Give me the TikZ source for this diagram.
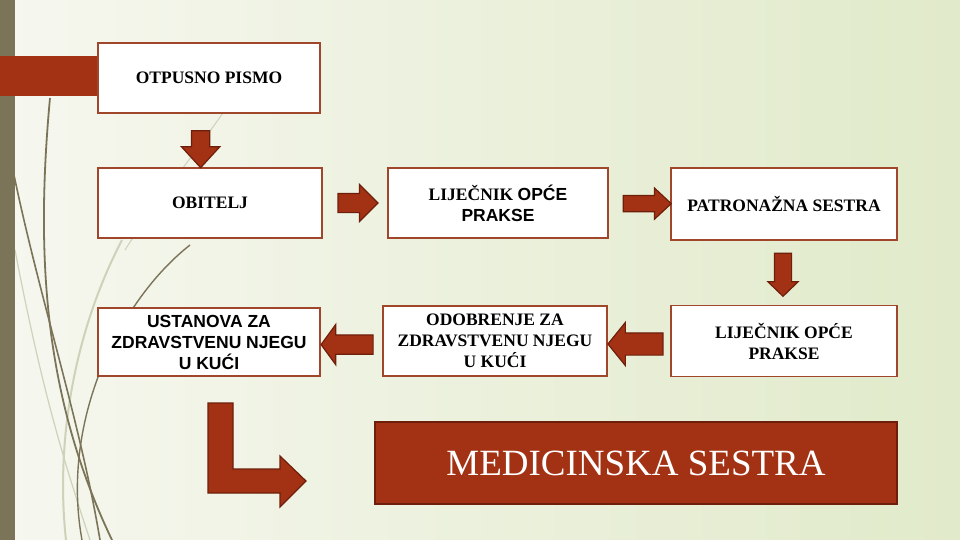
\documentclass[tikz,border=0pt]{standalone}
\usepackage{fontspec}
\setmainfont{Liberation Serif}
\setsansfont{Liberation Sans}
\usetikzlibrary{shapes.arrows,calc}

\definecolor{bgleft}{HTML}{F6F7EF}
\definecolor{bgright}{HTML}{E1EACA}
\definecolor{sidebar}{HTML}{7B7458}
\definecolor{arrowred}{HTML}{A33214}
\definecolor{arrowline}{HTML}{6E1F0B}
\definecolor{boxline}{HTML}{A0472B}
\definecolor{swirl}{HTML}{7B7458}
\definecolor{swirllight}{HTML}{CDD2B9}

\newcommand{\boxfont}{\fontsize{17.5}{21}\selectfont\bfseries}

\tikzset{
  box/.style={draw=boxline, line width=1.8, fill=white, inner sep=0pt,
    align=center, font=\boxfont, minimum width=224, minimum height=70},
  blockarrow/.style={single arrow, draw=arrowline, fill=arrowred,
    line width=1.2, inner xsep=0pt}
}

\begin{document}
\begin{tikzpicture}[x=1pt,y=-1pt]

  % background
  \useasboundingbox (0,0) rectangle (960,540);
  \shade[left color=bgleft, right color=bgright] (0,0) rectangle (960,540);

  % swirls
  \draw[swirllight, line width=2]   (122,240) .. controls (75,330) and (55,440) .. (66,540);
  \draw[swirllight, line width=1]   (225,110) .. controls (190,160) and (150,210) .. (125,250);
  \draw[swirllight, line width=1.2] (15,250) .. controls (40,380) and (60,450) .. (90,540);
  \draw[swirl, line width=1.8] (50,98) .. controls (35,260) and (45,400) .. (112,540);
  \draw[swirl, line width=1.6] (14,175) .. controls (40,300) and (80,420) .. (100,540);
  \draw[swirl, line width=1.4] (190,245) .. controls (120,300) and (60,420) .. (82,540);

  \fill[sidebar] (0,0) rectangle (15,540);
  \fill[arrowred] (0,56) rectangle (98,96);

  % boxes
  \node[box, minimum width=222] (otpusno)    at (209,78)  {OTPUSNO PISMO};
  \node[box]                    (obitelj)    at (210,203) {OBITELJ};
  \node[box, minimum width=220] (lijecnikA)  at (498,203)
    {LIJEČNIK {\sffamily OPĆE}\\\sffamily PRAKSE};
  \node[box, minimum width=226, minimum height=72] (patronazna) at (784,204)
    {PATRONAŽNA SESTRA};
  \node[box, minimum width=226, minimum height=71] (lijecnikB) at (784,341)
    {LIJEČNIK OPĆE\\PRAKSE};
  \node[box]                    (odobrenje)  at (495,341)
    {ODOBRENJE ZA\\ZDRAVSTVENU NJEGU\\U KUĆI};
  \node[box, minimum width=222, minimum height=68, font=\boxfont\sffamily] (ustanova) at (209,342)
    {USTANOVA ZA\\ZDRAVSTVENU NJEGU\\U KUĆI};
  \node[draw=arrowline, line width=1.8, fill=arrowred, text=white,
    minimum width=522, minimum height=82, inner sep=0pt,
    font=\fontsize{37}{40}\selectfont] (medsestra) at (636,463) {MEDICINSKA SESTRA};

  % block arrows
  \node[blockarrow, rotate=-90, minimum height=37, inner ysep=8.5,
    single arrow head extend=10, single arrow tip angle=85] (aA)
    at ($(otpusno.south)!0.645!(obitelj.north)+(-9,-4)$) {};
  \node[blockarrow, minimum height=40, inner ysep=9,
    single arrow head extend=9, single arrow tip angle=90] (aB)
    at ($(obitelj.east)!0.52!(lijecnikA.west)+(-3,0)$) {};
  \node[blockarrow, minimum height=48, inner ysep=7.5,
    single arrow head extend=7.5, single arrow tip angle=86] (aC)
    at ($(lijecnikA.east)!0.62!(patronazna.west)+(-4,0)$) {};
  \node[blockarrow, rotate=-90, minimum height=43, inner ysep=8,
    single arrow head extend=6.5, single arrow tip angle=92] (aD)
    at ($(patronazna.south)!0.53!(lijecnikB.north)+(-1,-4)$) {};
  \node[blockarrow, rotate=180, minimum height=55, inner ysep=10.5,
    single arrow head extend=10.5, single arrow tip angle=102] (aE)
    at ($(odobrenje.east)!0.45!(lijecnikB.west)+(4,3)$) {};
  \node[blockarrow, rotate=180, minimum height=52, inner ysep=9,
    single arrow head extend=10.5, single arrow tip angle=108] (aF)
    at ($(ustanova.east)!0.42!(odobrenje.west)+(4,3)$) {};

  % bent arrow
  \filldraw[arrowred, draw=arrowline, line width=1.2]
    (208,403) -- (233,403) -- (233,469) -- (280,469) -- (280,456)
    -- (306,481) -- (280,507) -- (280,493) -- (208,493) -- cycle;

\end{tikzpicture}
\end{document}
